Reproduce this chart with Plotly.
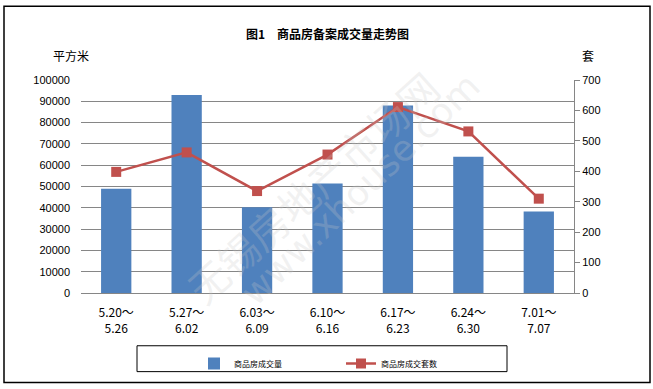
import plotly.graph_objects as go

categories = ["5.20～<br>5.26", "5.27～<br>6.02", "6.03～<br>6.09", "6.10～<br>6.16",
              "6.17～<br>6.23", "6.24～<br>6.30", "7.01～<br>7.07"]
area_values = [49000, 93000, 40300, 51400, 88000, 64000, 38300]
unit_values = [398, 462, 335, 455, 611, 531, 310]
left_ticks = list(range(0, 100001, 10000))
right_ticks = list(range(0, 701, 100))

FONT = "Noto Sans CJK SC, Liberation Sans, sans-serif"
W, H = 653, 389
L, R, T, B = 81, 79, 80, 95
pw, ph = W - L - R, H - T - B

def px(x):
    return (x - L) / pw

def py(y):
    return (H - B - y) / ph

fig = go.Figure()
fig.add_trace(go.Bar(x=categories, y=area_values, name="商品房成交量",
                     marker=dict(color="#4F81BD", line=dict(width=0)), width=0.43,
                     yaxis="y"))
fig.add_trace(go.Scatter(x=categories, y=unit_values, name="商品房成交套数",
                         mode="lines+markers", yaxis="y2",
                         line=dict(color="#C0504D", width=2.5),
                         marker=dict(symbol="square", size=10, color="#C0504D")))

fig.update_layout(
    width=W, height=H,
    margin=dict(l=L, r=R, t=T, b=B),
    paper_bgcolor="white", plot_bgcolor="white",
    font=dict(family=FONT, size=11, color="black"),
    xaxis=dict(type="category", showgrid=False, showline=True, linecolor="#868686",
               linewidth=1, ticks="", tickfont=dict(size=12, family=FONT),
               ticklabelstandoff=9, fixedrange=True),
    yaxis=dict(range=[0, 100000], tickvals=left_ticks, showgrid=True,
               gridcolor="#868686", gridwidth=1, showline=False, ticks="",
               ticklabelstandoff=10, zeroline=False, tickformat="d",
               tickfont=dict(size=11, family="Liberation Sans, sans-serif")),
    yaxis2=dict(range=[0, 700], tickvals=right_ticks, overlaying="y", side="right",
                showgrid=False, showline=True, linecolor="#868686", linewidth=1,
                ticks="outside", ticklen=5, tickcolor="#868686", zeroline=False,
                tickfont=dict(size=11, family="Liberation Sans, sans-serif")),
    showlegend=True,
    legend=dict(orientation="h", x=px(194), xanchor="left", y=py(349), yanchor="top",
                entrywidth=102, entrywidthmode="pixels", borderwidth=0,
                bgcolor="rgba(0,0,0,0)", font=dict(size=8, family=FONT),
                traceorder="normal"),
)

# outer frame and legend box
fig.add_shape(type="rect", xref="paper", yref="paper",
              x0=px(4), x1=px(650), y0=py(384), y1=py(6),
              line=dict(color="black", width=1.5), fillcolor="rgba(0,0,0,0)", layer="below")
fig.add_shape(type="rect", xref="paper", yref="paper",
              x0=px(137), x1=px(507), y0=py(373), y1=py(347),
              line=dict(color="black", width=1), fillcolor="rgba(0,0,0,0)")

fig.add_annotation(text="<b>图1　商品房备案成交量走势图</b>", xref="paper", yref="paper",
                   x=px(327), y=py(33), showarrow=False, xanchor="center", yanchor="middle",
                   font=dict(size=12, family=FONT, color="black"))
fig.add_annotation(text="平方米", xref="paper", yref="paper", x=px(71), y=py(55),
                   showarrow=False, font=dict(size=12, family=FONT),
                   xanchor="center", yanchor="middle")
fig.add_annotation(text="套", xref="paper", yref="paper", x=px(588), y=py(55),
                   showarrow=False, font=dict(size=12, family=FONT),
                   xanchor="center", yanchor="middle")

# faint watermark
fig.add_annotation(text="无锡房地产市场网", xref="paper", yref="paper",
                   x=px(312), y=py(187), showarrow=False, textangle=-42,
                   xanchor="center", yanchor="middle",
                   font=dict(size=40, family=FONT, color="rgba(200,200,200,0.25)"))
fig.add_annotation(text="www.xhouse.com", xref="paper", yref="paper",
                   x=px(360), y=py(190), showarrow=False, textangle=-44,
                   xanchor="center", yanchor="middle",
                   font=dict(size=36, family="DejaVu Sans", color="rgba(200,200,200,0.25)"))

fig.write_html("out.html", config={"displayModeBar": False},
               post_script="document.body.style.margin='0';document.body.style.overflow='hidden';")
